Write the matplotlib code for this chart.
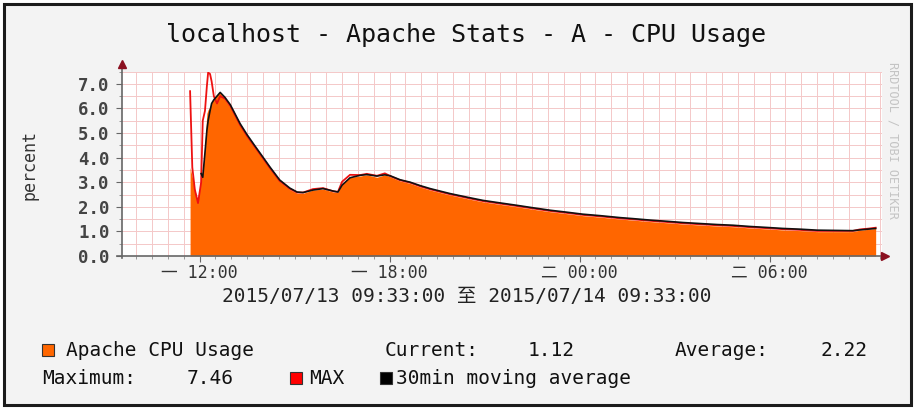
import matplotlib.pyplot as plt
from matplotlib.patches import Rectangle
import numpy as np

# hours since 2015/07/13 00:00 (values > 24 are on 07/14)
hours = [11.70, 11.77, 11.85, 11.95, 12.05, 12.10, 12.17, 12.23, 12.27, 12.33,
         12.38, 12.45, 12.55, 12.65, 12.80, 12.97, 13.28, 13.50, 13.75, 14.00,
         14.22, 14.53, 14.85, 15.08, 15.27, 15.58, 15.90, 16.22, 16.37, 16.50,
         16.75, 17.07, 17.28, 17.60, 17.85, 18.02, 18.33, 18.65, 18.97, 19.28,
         19.90, 20.45, 20.95, 21.48, 22.02, 22.53, 23.07, 23.60, 24.10, 24.65,
         25.28, 25.68, 26.22, 26.77, 27.27, 27.80, 28.33, 28.85, 29.38, 29.92,
         30.42, 30.97, 31.50, 32.07, 32.63, 32.85, 33.10, 33.35]
avg_cpu = [3.60, 3.20, 2.70, 2.20, 3.30, 3.45, 4.60, 5.80, 5.95, 6.05,
           6.25, 6.40, 6.55, 6.65, 6.35, 6.05, 5.30, 4.85, 4.40, 3.95,
           3.55, 3.02, 2.70, 2.55, 2.55, 2.68, 2.72, 2.60, 2.58, 2.95,
           3.20, 3.25, 3.30, 3.20, 3.30, 3.22, 3.05, 2.95, 2.80, 2.68,
           2.48, 2.33, 2.20, 2.10, 2.00, 1.90, 1.80, 1.72, 1.64, 1.58,
           1.50, 1.46, 1.40, 1.35, 1.30, 1.26, 1.22, 1.19, 1.14, 1.10,
           1.06, 1.03, 0.99, 0.99, 0.99, 1.05, 1.08, 1.12]
max_cpu = [6.70, 3.60, 2.70, 2.15, 3.00, 5.50, 5.90, 6.90, 7.46, 7.40,
           7.10, 6.50, 6.20, 6.50, 6.40, 6.10, 5.33, 4.88, 4.43, 3.98,
           3.58, 3.05, 2.73, 2.58, 2.58, 2.72, 2.76, 2.63, 2.61, 3.02,
           3.30, 3.29, 3.34, 3.26, 3.36, 3.25, 3.08, 2.98, 2.83, 2.71,
           2.51, 2.36, 2.23, 2.13, 2.03, 1.93, 1.83, 1.75, 1.67, 1.61,
           1.53, 1.49, 1.43, 1.38, 1.33, 1.29, 1.25, 1.22, 1.17, 1.13,
           1.09, 1.06, 1.02, 1.02, 1.02, 1.08, 1.11, 1.15]
trend_cpu = [np.nan, np.nan, np.nan, np.nan, 3.35, 3.20, 4.20, 5.10, 5.50, 5.90,
             6.20, 6.35, 6.50, 6.65, 6.45, 6.15, 5.38, 4.93, 4.47, 4.02,
             3.62, 3.09, 2.76, 2.60, 2.58, 2.68, 2.74, 2.64, 2.60, 2.88,
             3.18, 3.28, 3.31, 3.25, 3.30, 3.26, 3.10, 3.00, 2.86, 2.74,
             2.54, 2.39, 2.26, 2.16, 2.06, 1.96, 1.86, 1.78, 1.70, 1.64,
             1.56, 1.52, 1.46, 1.41, 1.36, 1.32, 1.28, 1.25, 1.20, 1.16,
             1.12, 1.09, 1.05, 1.04, 1.03, 1.06, 1.09, 1.12]

tick_hours = [12, 18, 24, 30]
tick_labels = ['一 12:00', '一 18:00', '二 00:00', '二 06:00']
y_ticks = [0, 1, 2, 3, 4, 5, 6, 7]
start_h, end_h = 9.55, 33.55

title = 'localhost - Apache Stats - A - CPU Usage'
period = '2015/07/13 09:33:00 至 2015/07/14 09:33:00'
current_val, average_val, maximum_val = '1.12', '2.22', '7.46'

mono = ['DejaVu Sans Mono', 'Noto Sans CJK SC']
c_area = '#ff6600'
c_max = '#ee1111'
c_trend = '#111111'

W, H = 915, 409
fig = plt.figure(figsize=(W / 100, H / 100), dpi=100)
fig.patch.set_facecolor('white')


def fx(px):
    return px / W


def fy(py):
    return 1 - py / H


# outer panel
fig.add_artist(Rectangle((fx(4), fy(405)), (907) / W, 401 / H, transform=fig.transFigure,
                         facecolor='#f3f3f3', edgecolor='#1c1c1c', lw=2.2, zorder=-5))

ax = fig.add_axes([fx(122), fy(256), (882 - 122) / W, (256 - 71.5) / H])
ax.set_facecolor('white')
ax.set_xlim(start_h, end_h)
ax.set_ylim(0, 7.5)

ax.set_xticks(tick_hours)
ax.set_xticklabels(tick_labels, family=mono, fontsize=12, color='#333333')
ax.set_xticks(np.arange(10, 33.6, 0.5), minor=True)
ax.set_yticks(y_ticks)
ax.set_yticklabels(['%.1f' % v for v in y_ticks], family=mono, fontsize=12.5,
                   fontweight='bold', color='#444444')
ax.set_yticks(np.arange(0.5, 7.6, 1.0), minor=True)
ax.grid(which='both', color='#f4c8c8', lw=0.7)
ax.set_axisbelow(True)
ax.tick_params(axis='x', which='major', length=4, color='#666666', pad=2)
ax.tick_params(axis='y', which='major', length=4, color='#666666', pad=5)
ax.tick_params(which='minor', length=2, color='#888888')
for s in ax.spines.values():
    s.set_visible(False)

ax.fill_between(hours, avg_cpu, color=c_area, lw=0, zorder=2)
ax.plot(hours, max_cpu, color=c_max, lw=1.3, zorder=3)
ax.plot(hours, trend_cpu, color=c_trend, lw=1.2, zorder=4)

# axes with arrows
ax.plot([0, 0], [-0.01, 1.035], transform=ax.transAxes, color='#666666', lw=1.2, clip_on=False, zorder=5)
ax.plot([-0.006, 1.0], [0, 0], transform=ax.transAxes, color='#666666', lw=1.2, clip_on=False, zorder=5)
ax.plot([0], [1.04], marker='^', ms=6, color='#8b1020', transform=ax.transAxes, clip_on=False, zorder=6)
ax.plot([1.004], [0], marker='>', ms=6, color='#8b1020', transform=ax.transAxes, clip_on=False, zorder=6)

fig.text(fx(466), fy(35), title, fontsize=18, family=mono, ha='center', va='center', color='#111111')
fig.text(fx(30), fy(165), 'percent', fontsize=12, family=mono, rotation=90,
         ha='center', va='center', color='#333333')
fig.text(fx(893), fy(140), 'RRDTOOL / TOBI OETIKER', fontsize=8.5, family=mono, rotation=270,
         ha='center', va='center', color='#c4c4c4')
fig.text(fx(467), fy(297), period, fontsize=14, family=mono, ha='center', va='center', color='#222222')

# legend
def swatch(px, py, color):
    fig.add_artist(Rectangle((fx(px), fy(py + 6)), 12 / W, 12 / H, transform=fig.transFigure,
                             facecolor=color, edgecolor='#333333', lw=0.8))


lkw = dict(fontsize=14, family=mono, va='center', color='#111111')
swatch(42, 350, c_area)
fig.text(fx(66), fy(350), 'Apache CPU Usage', **lkw)
fig.text(fx(385), fy(350), 'Current:', **lkw)
fig.text(fx(528), fy(350), current_val, **lkw)
fig.text(fx(675), fy(350), 'Average:', **lkw)
fig.text(fx(820), fy(350), average_val, **lkw)
fig.text(fx(42), fy(378), 'Maximum:', **lkw)
fig.text(fx(187), fy(378), maximum_val, **lkw)
swatch(290, 378, '#ff0000')
fig.text(fx(309), fy(378), 'MAX', **lkw)
swatch(380, 378, '#000000')
fig.text(fx(396), fy(378), '30min moving average', **lkw)

fig.savefig('out.png', dpi=100)
